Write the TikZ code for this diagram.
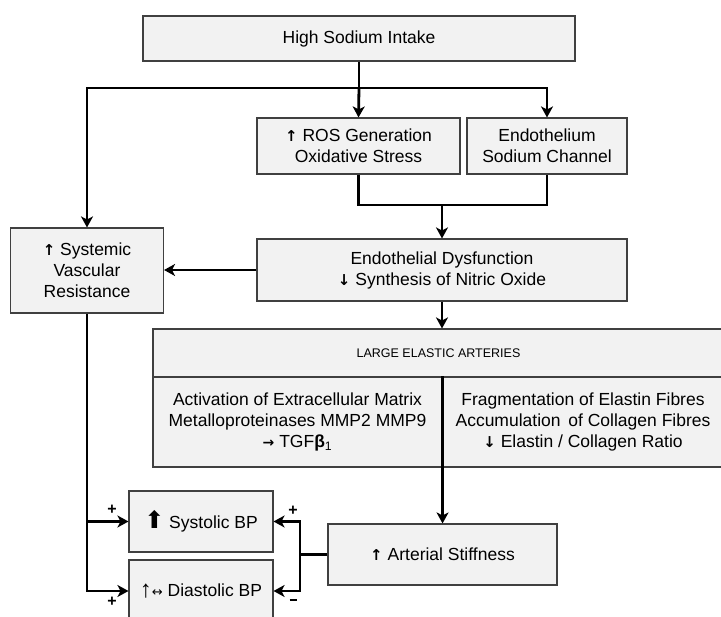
\documentclass[tikz,border=0pt]{standalone}
\usepackage{fontspec}
\setmainfont{Liberation Sans}
\newfontfamily\symfont{DejaVu Sans}
\usetikzlibrary{arrows.meta, calc}
\newcommand{\upar}{{\symfont\bfseries\fontsize{15}{15}\selectfont ↑}}
\newcommand{\downar}{{\symfont\bfseries\fontsize{15}{15}\selectfont ↓}}

\begin{document}
\begin{tikzpicture}[
  x=1pt, y=-1pt,
  every node/.style={font=\fontsize{17.5}{21}\selectfont, text=black},
  box/.style={draw=black!75, line width=1.1pt, fill=gray!10, align=center, inner sep=0pt},
  conn/.style={line width=2.8pt, black},
  arr/.style={conn, -{Stealth[length=11pt, width=12pt, inset=3pt]}},
  sign/.style={font=\bfseries\fontsize{16}{16}\selectfont, text=black},
]
  \useasboundingbox (0,0) rectangle (721,617);

  % top row
  \node[box, minimum width=432pt, minimum height=45pt] (hsi) at (359,38.5) {High Sodium Intake};
  \node[box, minimum width=203pt, minimum height=56pt] (ros) at (358.5,146)
    {\upar\ ROS Generation\\Oxidative Stress};
  \node[box, minimum width=160pt, minimum height=56pt] (endo) at (547,146)
    {Endothelium\\Sodium Channel};

  % middle row
  \node[box, minimum width=153pt, minimum height=85pt] (svr) at (87,270.5)
    {\upar\ Systemic\\Vascular\\Resistance};
  \node[box, minimum width=370pt, minimum height=62pt] (ed) at (442,270)
    {Endothelial Dysfunction\\\downar\ Synthesis of Nitric Oxide};

  % large elastic arteries
  \node[box, minimum width=571pt, minimum height=48pt, font=\fontsize{12.5}{14}\selectfont] (lea) at (438.5,353)
    {LARGE ELASTIC ARTERIES};
  \node[box, minimum width=289pt, minimum height=90pt] (leal) at (297.5,422)
    {Activation of Extracellular Matrix\\Metalloproteinases MMP2 MMP9\\{\symfont\bfseries\fontsize{14}{14}\selectfont →} TGF{\bfseries β}\textsubscript{1}};
  \node[box, minimum width=282pt, minimum height=90pt] (lear) at (583,422)
    {Fragmentation of Elastin Fibres\\Accumulation\, of Collagen Fibres\\\downar\ Elastin / Collagen Ratio};

  % blood pressure
  \node[box, minimum width=144pt, minimum height=61pt] (sys) at (201,521.5)
    {{\symfont\fontsize{24}{24}\selectfont ⬆} Systolic BP};
  \node[box, minimum width=144pt, minimum height=62pt] (dia) at (201,591)
    {\raisebox{-1pt}{\fontsize{24}{24}\selectfont ↑}{\symfont\fontsize{13}{13}\selectfont ↔} Diastolic BP};
  \node[box, minimum width=229pt, minimum height=61pt] (as) at (442.5,554.5)
    {\upar\ Arterial Stiffness};

  % connectors from the sodium intake
  \coordinate (split) at (359,88);
  \draw[conn] (hsi.south) -- (split);
  \draw[arr] (split) -- (ros.north);
  \draw[arr] (split) -| (endo.north);
  \draw[arr] (split) -| (svr.north);

  % ROS and sodium channel join
  \coordinate (merge) at (442,205);
  \draw[conn] (ros.south) |- (merge) -| (endo.south);
  \draw[arr] (merge) -- (ed.north);
  \draw[arr] (ed.west) -- (ed.west -| svr.east);
  \draw[arr] (ed.south) -- (ed.south |- lea.north);
  \draw[arr] (leal.north east) -- (leal.north east |- as.north);

  % resistance to pressures
  \draw[arr] (svr.south) |- (dia.west);
  \draw[arr] (svr.south |- sys.west) -- (sys.west);
  \node[sign] (p1) at (112,510) {+};
  \node[sign] (p2) at (112,602) {+};

  % stiffness to pressures
  \coordinate (fork) at (300,554.5);
  \draw[conn] (as.west) -- (fork);
  \draw[arr] (fork) |- (sys.east);
  \draw[arr] (fork) |- (dia.east);
  \node[sign] (p3) at (293,511) {+};
  \node[sign] (m1) at (293,600) {\rule{7pt}{2.2pt}};
\end{tikzpicture}
\end{document}
